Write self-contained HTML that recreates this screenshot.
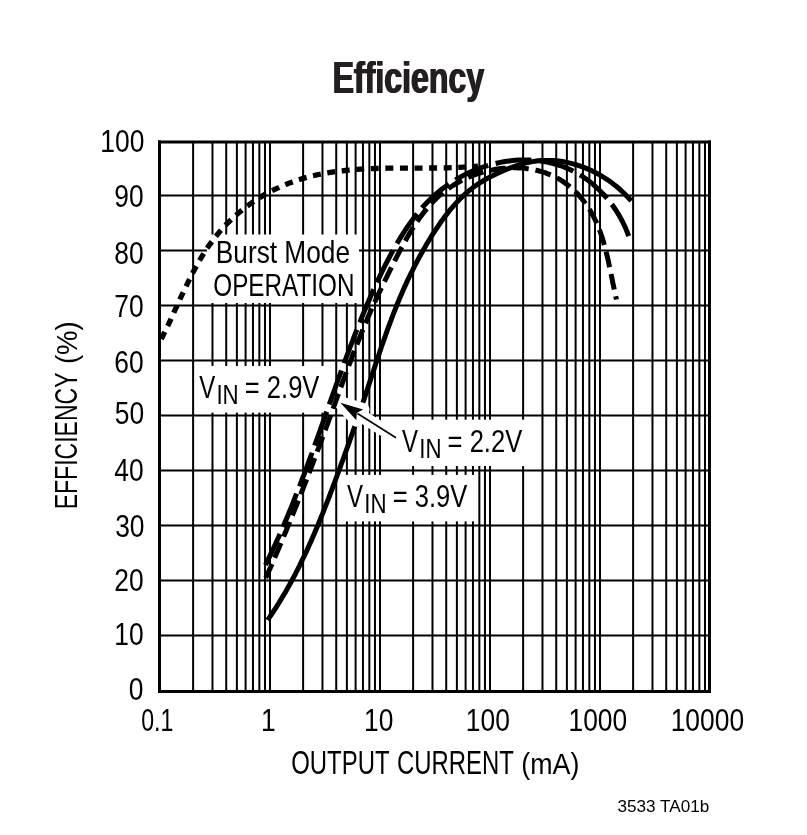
<!DOCTYPE html><html><head><meta charset="utf-8"><style>html,body{margin:0;padding:0;background:#fff;}svg{display:block;will-change:transform;}text{font-family:"Liberation Sans",sans-serif;}</style></head><body>
<svg width="807" height="835" viewBox="0 0 807 835">
<rect x="0" y="0" width="807" height="835" fill="#fff"/>
<path d="M193.11,143V690 M212.48,143V690 M226.23,143V690 M236.89,143V690 M245.60,143V690 M252.96,143V690 M259.34,143V690 M264.97,143V690 M270.00,143V690 M303.11,143V690 M322.48,143V690 M336.23,143V690 M346.89,143V690 M355.60,143V690 M362.96,143V690 M369.34,143V690 M374.97,143V690 M380.00,143V690 M413.11,143V690 M432.48,143V690 M446.23,143V690 M456.89,143V690 M465.60,143V690 M472.96,143V690 M479.34,143V690 M484.97,143V690 M490.00,143V690 M523.11,143V690 M542.48,143V690 M556.23,143V690 M566.89,143V690 M575.60,143V690 M582.96,143V690 M589.34,143V690 M594.97,143V690 M600.00,143V690 M633.11,143V690 M652.48,143V690 M666.23,143V690 M676.89,143V690 M685.60,143V690 M692.96,143V690 M699.34,143V690 M704.97,143V690 M161,635.60H708 M161,580.60H708 M161,525.60H708 M161,470.60H708 M161,415.60H708 M161,360.60H708 M161,305.60H708 M161,250.60H708 M161,195.60H708" stroke="#000" stroke-width="2" fill="none"/>
<rect x="158" y="140.5" width="3" height="552.5" fill="#000"/>
<rect x="708" y="140.5" width="3" height="552.5" fill="#000"/>
<rect x="158" y="140.5" width="553" height="3" fill="#000"/>
<rect x="158" y="690" width="553" height="3" fill="#000"/>
<rect x="207.0" y="234.5" width="152.0" height="68.5" fill="#fff"/>
<rect x="196.0" y="366.0" width="129.0" height="46.6" fill="#fff"/>
<rect x="398.0" y="419.7" width="130.0" height="46.3" fill="#fff"/>
<rect x="342.0" y="474.9" width="134.0" height="46.5" fill="#fff"/>
<path d="M267.6,620.1 L269.3,617.6 L271.0,615.1 L272.7,612.6 L274.3,610.1 L276.0,607.6 L277.6,605.0 L279.2,602.5 L280.7,599.9 L282.3,597.3 L283.8,594.8 L285.4,592.2 L286.9,589.5 L288.3,586.9 L289.8,584.3 L291.2,581.7 L292.7,579.0 L294.1,576.3 L295.5,573.7 L296.9,571.0 L298.2,568.3 L299.6,565.6 L300.9,562.9 L302.2,560.2 L303.5,557.5 L304.8,554.8 L306.1,552.1 L307.4,549.3 L308.6,546.6 L309.8,543.8 L311.1,541.1 L312.3,538.3 L313.5,535.6 L314.7,532.8 L315.8,530.0 L317.0,527.2 L318.2,524.5 L319.3,521.7 L320.4,518.9 L321.6,516.1 L322.7,513.3 L323.8,510.5 L324.9,507.7 L326.0,504.9 L327.1,502.1 L328.2,499.3 L329.3,496.5 L330.3,493.7 L331.4,490.9 L332.5,488.0 L333.5,485.2 L334.6,482.4 L335.6,479.6 L336.7,476.7 L337.7,473.9 L338.7,471.1 L339.8,468.3 L340.8,465.4 L341.8,462.6 L342.9,459.8 L343.9,457.0 L344.9,454.1 L345.9,451.3 L347.0,448.5 L348.0,445.6 L349.0,442.8 L350.0,440.0 L351.0,437.1 L352.0,434.3 L353.0,431.4 L354.0,428.6 L355.0,425.8 L356.0,422.9 L357.0,420.1 L358.0,417.2 L358.9,414.4 L359.9,411.5 L360.9,408.7 L361.8,405.8 L362.8,403.0 L363.8,400.1 L364.7,397.3 L365.7,394.4 L366.6,391.5 L367.6,388.7 L368.5,385.8 L369.4,383.0 L370.4,380.1 L371.3,377.2 L372.3,374.4 L373.2,371.5 L374.2,368.7 L375.1,365.8 L376.0,362.9 L377.0,360.1 L378.0,357.2 L378.9,354.4 L379.9,351.5 L380.8,348.7 L381.8,345.8 L382.8,343.0 L383.8,340.1 L384.8,337.3 L385.8,334.5 L386.8,331.6 L387.8,328.8 L388.9,326.0 L389.9,323.1 L391.0,320.3 L392.0,317.5 L393.1,314.7 L394.2,311.9 L395.3,309.1 L396.4,306.3 L397.5,303.5 L398.7,300.7 L399.8,297.9 L401.0,295.2 L402.2,292.4 L403.4,289.6 L404.6,286.9 L405.9,284.1 L407.1,281.4 L408.4,278.7 L409.7,276.0 L411.0,273.3 L412.4,270.6 L413.7,267.9 L415.1,265.2 L416.5,262.5 L417.9,259.9 L419.3,257.2 L420.8,254.6 L422.2,251.9 L423.7,249.3 L425.2,246.7 L426.7,244.1 L428.3,241.5 L429.8,239.0 L431.4,236.4 L433.0,233.8 L434.6,231.3 L436.3,228.8 L438.0,226.3 L439.7,223.8 L441.4,221.3 L443.2,218.9 L444.9,216.5 L446.8,214.1 L448.6,211.7 L450.5,209.4 L452.5,207.1 L454.5,204.8 L456.5,202.6 L458.6,200.4 L460.7,198.3 L462.9,196.2 L465.1,194.2 L467.4,192.2 L469.7,190.2 L472.0,188.4 L474.4,186.6 L476.9,184.8 L479.4,183.2 L482.0,181.6 L484.5,180.0 L487.2,178.5 L489.8,177.1 L492.5,175.7 L495.2,174.4 L497.9,173.1 L500.6,171.9 L503.4,170.7 L506.2,169.5 L509.0,168.4 L511.8,167.4 L514.6,166.3 L517.5,165.4 L520.4,164.4 L523.2,163.6 L526.2,162.8 L529.1,162.2 L532.1,161.6 L535.0,161.2 L538.0,160.8 L541.0,160.6 L544.0,160.4 L547.0,160.4 L550.1,160.4 L553.1,160.5 L556.1,160.8 L559.1,161.1 L562.0,161.5 L565.0,162.0 L568.0,162.6 L570.9,163.3 L573.8,164.1 L576.7,164.9 L579.6,165.8 L582.4,166.8 L585.2,167.9 L588.0,169.1 L590.7,170.3 L593.5,171.6 L596.1,173.0 L598.8,174.4 L601.4,175.9 L603.9,177.5 L606.5,179.1 L609.0,180.8 L611.4,182.6 L613.8,184.4 L616.2,186.3 L618.5,188.2 L620.7,190.2 L622.9,192.3 L625.1,194.4 L627.2,196.5 L629.3,198.7 L631.3,200.9" stroke="#000" stroke-width="5" fill="none"/>
<path d="M396,437.7 L350,408.7" stroke="#fff" stroke-width="13" fill="none"/>
<path d="M340.4,402.7 L363.05,409.52 L356.8,413.04 L356.33,420.18 Z" fill="#fff" stroke="#fff" stroke-width="13" stroke-linejoin="round"/>
<path d="M160.3,341.0 L161.6,338.3 L163.0,335.6 L164.3,332.9 L165.6,330.2 L166.9,327.5 L168.2,324.8 L169.5,322.1 L170.8,319.3 L172.0,316.6 L173.3,313.8 L174.5,311.1 L175.8,308.4 L177.1,305.6 L178.3,302.9 L179.6,300.1 L180.8,297.4 L182.1,294.7 L183.4,291.9 L184.7,289.2 L186.0,286.5 L187.3,283.8 L188.6,281.1 L190.0,278.4 L191.3,275.7 L192.7,273.0 L194.1,270.3 L195.5,267.7 L197.0,265.0 L198.5,262.4 L200.0,259.8 L201.5,257.2 L203.1,254.6 L204.7,252.1 L206.3,249.6 L208.0,247.1 L209.7,244.6 L211.5,242.1 L213.3,239.7 L215.1,237.3 L217.0,235.0 L218.9,232.6 L220.9,230.3 L222.9,228.1 L224.9,225.9 L227.0,223.7 L229.2,221.6 L231.3,219.5 L233.5,217.4 L235.8,215.4 L238.0,213.4 L240.3,211.5 L242.7,209.6 L245.0,207.7 L247.5,205.9 L249.9,204.1 L252.4,202.4 L254.9,200.7 L257.4,199.1 L259.9,197.5 L262.5,195.9 L265.1,194.4 L267.8,192.9 L270.4,191.5 L273.1,190.2 L275.8,188.8 L278.6,187.6 L281.3,186.3 L284.1,185.1 L286.9,184.0 L289.7,182.9 L292.5,181.9 L295.4,180.9 L298.2,179.9 L301.1,179.0 L304.0,178.1 L306.9,177.3 L309.8,176.6 L312.7,175.8 L315.7,175.2 L318.6,174.5 L321.6,173.9 L324.5,173.4 L327.5,172.9 L330.5,172.4 L333.5,171.9 L336.4,171.5 L339.4,171.1 L342.4,170.8 L345.4,170.5 L348.4,170.2 L351.4,169.9 L354.4,169.6 L357.4,169.4 L360.4,169.2 L363.5,169.0 L366.5,168.9 L369.5,168.7 L372.5,168.6 L375.5,168.5 L378.5,168.4 L381.5,168.3 L384.5,168.3 L387.6,168.2 L390.6,168.2 L393.6,168.1 L396.6,168.1 L399.6,168.1 L402.6,168.1 L405.6,168.1 L408.7,168.1 L411.7,168.1 L414.7,168.1 L417.7,168.1 L420.7,168.1 L423.7,168.1 L426.7,168.0 L429.8,168.0 L432.8,168.0 L435.8,168.0 L438.8,168.0 L441.8,167.9 L444.8,167.9 L447.8,167.8 L450.9,167.7 L453.9,167.6 L456.9,167.5 L459.9,167.4 L462.9,167.2 L465.9,167.1 L468.9,166.9 L471.9,166.7 L474.9,166.4 L477.9,166.2" stroke="#000" stroke-width="5.3" fill="none" stroke-dasharray="8 6.58" stroke-dashoffset="-2.12"/>
<path d="M265.5,565.0 L266.8,562.3 L268.1,559.6 L269.4,556.9 L270.7,554.2 L272.0,551.5 L273.3,548.7 L274.5,546.0 L275.8,543.3 L277.0,540.5 L278.3,537.8 L279.5,535.1 L280.7,532.3 L281.9,529.6 L283.1,526.8 L284.3,524.0 L285.4,521.3 L286.6,518.5 L287.8,515.7 L288.9,513.0 L290.0,510.2 L291.2,507.4 L292.3,504.6 L293.4,501.8 L294.5,499.0 L295.6,496.2 L296.7,493.4 L297.8,490.6 L298.9,487.8 L300.0,485.0 L301.1,482.2 L302.1,479.4 L303.2,476.6 L304.3,473.8 L305.3,471.0 L306.4,468.2 L307.4,465.4 L308.5,462.5 L309.5,459.7 L310.5,456.9 L311.6,454.1 L312.6,451.2 L313.6,448.4 L314.6,445.6 L315.6,442.8 L316.7,439.9 L317.7,437.1 L318.7,434.3 L319.7,431.5 L320.7,428.6 L321.7,425.8 L322.7,423.0 L323.7,420.1 L324.7,417.3 L325.7,414.5 L326.7,411.6 L327.7,408.8 L328.7,406.0 L329.7,403.1 L330.7,400.3 L331.8,397.5 L332.8,394.6 L333.8,391.8 L334.8,389.0 L335.8,386.2 L336.8,383.3 L337.8,380.5 L338.8,377.7 L339.9,374.9 L340.9,372.0 L341.9,369.2 L343.0,366.4 L344.0,363.6 L345.0,360.7 L346.1,357.9 L347.1,355.1 L348.2,352.3 L349.2,349.5 L350.3,346.7 L351.4,343.9 L352.5,341.1 L353.5,338.3 L354.6,335.5 L355.7,332.7 L356.8,329.9 L357.9,327.1 L359.0,324.3 L360.2,321.5 L361.3,318.7 L362.4,315.9 L363.6,313.1 L364.7,310.4 L365.9,307.6 L367.0,304.8 L368.2,302.1 L369.4,299.3 L370.6,296.5 L371.8,293.8 L373.0,291.0 L374.2,288.3 L375.5,285.6 L376.7,282.8 L378.0,280.1 L379.3,277.4 L380.6,274.7 L381.9,272.0 L383.2,269.3 L384.5,266.6 L385.9,263.9 L387.3,261.2 L388.7,258.6 L390.1,255.9 L391.5,253.3 L392.9,250.6 L394.4,248.0 L395.9,245.4 L397.4,242.8 L398.9,240.2 L400.5,237.7 L402.1,235.1 L403.7,232.6 L405.3,230.0 L407.0,227.5 L408.7,225.1 L410.4,222.6 L412.2,220.2 L414.0,217.8 L415.8,215.4 L417.7,213.0 L419.6,210.7 L421.6,208.4 L423.5,206.2 L425.6,204.0 L427.7,201.8 L429.8,199.7 L432.0,197.6 L434.2,195.6 L436.4,193.6 L438.7,191.7 L441.1,189.8 L443.4,188.0 L445.9,186.2 L448.3,184.5 L450.8,182.8 L453.4,181.2 L455.9,179.6 L458.5,178.1 L461.1,176.6 L463.8,175.2 L466.5,173.9 L469.2,172.6 L471.9,171.4 L474.7,170.2 L477.5,169.1 L480.3,168.0 L483.1,167.0 L486.0,166.1 L488.9,165.2 L491.8,164.4 L494.7,163.7 L497.6,163.0 L500.5,162.4 L503.5,161.8 L506.5,161.3 L509.4,160.9 L512.4,160.6 L515.4,160.3 L518.4,160.1 L521.4,160.0 L524.4,159.9 L527.4,160.0 L530.4,160.1 L533.4,160.2 L536.4,160.5 L539.4,160.8 L542.4,161.3 L545.3,161.8 L548.3,162.3 L551.2,163.0 L554.1,163.8 L557.0,164.6 L559.9,165.5 L562.7,166.5 L565.5,167.6 L568.3,168.8 L571.0,170.0 L573.7,171.4 L576.3,172.8 L578.9,174.3 L581.5,175.9 L584.0,177.5 L586.5,179.3 L588.9,181.1 L591.2,182.9 L593.6,184.8 L595.8,186.8 L598.0,188.8 L600.2,190.9 L602.3,193.1 L604.3,195.3 L606.3,197.5 L608.3,199.8 L610.1,202.2 L612.0,204.6 L613.7,207.0 L615.4,209.5 L617.0,212.0 L618.6,214.6 L620.1,217.2 L621.6,219.8 L622.9,222.5 L624.2,225.2 L625.5,227.9 L626.6,230.7 L627.7,233.5 L628.8,236.3" stroke="#000" stroke-width="5" fill="none" stroke-dasharray="36 7.68" stroke-dashoffset="1.77"/>
<path d="M265.8,578.0 L267.0,575.3 L268.2,572.5 L269.4,569.8 L270.7,567.0 L271.9,564.2 L273.1,561.5 L274.3,558.7 L275.4,556.0 L276.6,553.2 L277.8,550.4 L279.0,547.7 L280.2,544.9 L281.3,542.1 L282.5,539.4 L283.6,536.6 L284.8,533.8 L286.0,531.0 L287.1,528.3 L288.2,525.5 L289.4,522.7 L290.5,519.9 L291.7,517.1 L292.8,514.4 L293.9,511.6 L295.0,508.8 L296.2,506.0 L297.3,503.2 L298.4,500.4 L299.5,497.6 L300.6,494.8 L301.7,492.0 L302.8,489.2 L303.9,486.4 L305.0,483.6 L306.1,480.8 L307.1,478.0 L308.2,475.2 L309.3,472.4 L310.4,469.6 L311.5,466.8 L312.5,464.0 L313.6,461.2 L314.7,458.4 L315.7,455.6 L316.8,452.7 L317.8,449.9 L318.9,447.1 L320.0,444.3 L321.0,441.5 L322.1,438.7 L323.1,435.8 L324.1,433.0 L325.2,430.2 L326.2,427.4 L327.3,424.6 L328.3,421.7 L329.3,418.9 L330.4,416.1 L331.4,413.3 L332.4,410.4 L333.4,407.6 L334.5,404.8 L335.5,402.0 L336.5,399.1 L337.5,396.3 L338.6,393.5 L339.6,390.7 L340.6,387.8 L341.7,385.0 L342.7,382.2 L343.7,379.4 L344.8,376.6 L345.8,373.7 L346.8,370.9 L347.9,368.1 L348.9,365.3 L350.0,362.5 L351.1,359.7 L352.1,356.8 L353.2,354.0 L354.3,351.2 L355.4,348.4 L356.5,345.6 L357.6,342.8 L358.7,340.0 L359.8,337.2 L360.9,334.5 L362.0,331.7 L363.2,328.9 L364.3,326.1 L365.5,323.3 L366.6,320.6 L367.8,317.8 L369.0,315.0 L370.2,312.3 L371.4,309.5 L372.6,306.8 L373.9,304.1 L375.1,301.3 L376.4,298.6 L377.7,295.9 L378.9,293.1 L380.2,290.4 L381.5,287.7 L382.8,285.0 L384.1,282.3 L385.4,279.6 L386.8,276.9 L388.1,274.2 L389.4,271.5 L390.7,268.8 L392.1,266.1 L393.4,263.4 L394.8,260.7 L396.1,258.1 L397.5,255.4 L398.9,252.7 L400.3,250.1 L401.7,247.4 L403.1,244.8 L404.6,242.1 L406.1,239.5 L407.5,236.9 L409.1,234.3 L410.6,231.7 L412.2,229.2 L413.8,226.6 L415.4,224.1 L417.1,221.6 L418.8,219.1 L420.6,216.7 L422.4,214.3 L424.2,211.9 L426.1,209.6 L428.0,207.3 L430.0,205.0 L432.0,202.8 L434.1,200.6 L436.3,198.5 L438.5,196.5 L440.7,194.5 L443.0,192.5 L445.4,190.7 L447.8,188.9 L450.3,187.2 L452.8,185.5 L455.3,184.0 L457.9,182.5 L460.6,181.0 L463.3,179.7 L466.0,178.4 L468.7,177.2 L471.5,176.0 L474.3,175.0 L477.2,174.0 L480.0,173.1 L482.9,172.2 L485.8,171.4 L488.7,170.7 L491.7,170.1 L494.6,169.5 L497.6,169.0 L500.6,168.6 L503.6,168.3 L506.6,168.1 L509.6,167.9 L512.6,167.8 L515.6,167.8 L518.6,167.9 L521.6,168.1 L524.6,168.3 L527.5,168.7 L530.5,169.1 L533.5,169.6 L536.4,170.3 L539.3,171.0 L542.2,171.8 L545.1,172.7 L547.9,173.8 L550.7,174.9 L553.4,176.1 L556.1,177.5 L558.8,178.9 L561.3,180.5 L563.8,182.1 L566.3,183.9 L568.7,185.7 L571.0,187.6 L573.2,189.6 L575.4,191.7 L577.5,193.8 L579.5,196.1 L581.5,198.3 L583.4,200.7 L585.2,203.1 L586.9,205.5 L588.6,208.0 L590.2,210.6 L591.7,213.2 L593.2,215.8 L594.5,218.5 L595.8,221.2 L597.1,223.9 L598.2,226.7 L599.3,229.5 L600.4,232.3 L601.4,235.2 L602.3,238.0 L603.2,240.9 L604.0,243.8 L604.8,246.7 L605.6,249.6 L606.3,252.5 L607.0,255.4 L607.7,258.3 L608.4,261.3 L609.0,264.2 L609.6,267.1 L610.3,270.1 L610.9,273.0 L611.5,276.0 L612.1,278.9 L612.6,281.9 L613.3,284.8 L613.9,287.8 L614.5,290.7 L615.1,293.6 L615.8,296.6 L616.5,299.5" stroke="#000" stroke-width="5" fill="none" stroke-dasharray="16 6.86" stroke-dashoffset="0.71"/>
<path d="M396,437.7 L357.5,413.5" stroke="#000" stroke-width="1.6" fill="none"/>
<path d="M340.4,402.7 L363.05,409.52 L356.8,413.04 L356.33,420.18 Z" fill="#000"/>
<text x="0" y="0" font-size="100" font-weight="bold" fill="#231f20" transform="matrix(0.3209,0,0,0.4478,331.95,93.10)">Efficiency</text>
<text x="0" y="0" font-size="100" font-weight="bold" fill="#231f20" transform="matrix(0.3209,0,0,0.4478,333.25,93.10)">Efficiency</text>
<text x="0" y="0" font-size="100" fill="#000" transform="matrix(0.2394,0,0,0.3239,291.20,773.78)">OUTPUT</text>
<text x="0" y="0" font-size="100" fill="#000" transform="matrix(0.2390,0,0,0.3239,397.00,773.78)">CURRENT</text>
<text x="0" y="0" font-size="100" fill="#000" transform="matrix(0.2681,0,0,0.3000,521.29,773.80)">(mA)</text>
<text x="0" y="0" font-size="100" fill="#000" transform="matrix(0.1713,0,0,0.1690,617.51,811.83)">3533 TA01b</text>
<text x="0" y="0" font-size="100" fill="#000" transform="translate(77.10,509.34) rotate(-90) scale(0.2305,0.3188)">EFFICIENCY</text>
<text x="0" y="0" font-size="100" fill="#000" transform="translate(77.13,364.05) rotate(-90) scale(0.2755,0.3032)">(%)</text>
<text x="0" y="0" font-size="100" fill="#000" transform="matrix(0.2625,0,0,0.3159,215.80,262.80)">Burst Mode</text>
<text x="0" y="0" font-size="100" fill="#000" transform="matrix(0.2428,0,0,0.3211,213.29,296.18)">OPERATION</text>
<text x="0" y="0" font-size="100" transform="matrix(0.2640,0,0,0.3180,100.37,152.02)">100</text>
<text x="0" y="0" font-size="100" transform="matrix(0.2640,0,0,0.3180,114.25,207.12)">90</text>
<text x="0" y="0" font-size="100" transform="matrix(0.2640,0,0,0.3180,114.25,264.07)">80</text>
<text x="0" y="0" font-size="100" transform="matrix(0.2640,0,0,0.3180,114.25,317.17)">70</text>
<text x="0" y="0" font-size="100" transform="matrix(0.2640,0,0,0.3180,114.25,373.17)">60</text>
<text x="0" y="0" font-size="100" transform="matrix(0.2640,0,0,0.3180,114.85,424.17)">50</text>
<text x="0" y="0" font-size="100" transform="matrix(0.2640,0,0,0.3180,114.25,481.27)">40</text>
<text x="0" y="0" font-size="100" transform="matrix(0.2640,0,0,0.3180,115.15,537.12)">30</text>
<text x="0" y="0" font-size="100" transform="matrix(0.2640,0,0,0.3180,114.25,591.27)">20</text>
<text x="0" y="0" font-size="100" transform="matrix(0.2640,0,0,0.3180,114.25,645.07)">10</text>
<text x="0" y="0" font-size="100" transform="matrix(0.2640,0,0,0.3180,128.77,700.07)">0</text>
<text x="0" y="0" font-size="100" transform="matrix(0.2640,0,0,0.3180,261.01,731.02)">1</text>
<text x="0" y="0" font-size="100" transform="matrix(0.2640,0,0,0.3180,364.07,731.02)">10</text>
<text x="0" y="0" font-size="100" transform="matrix(0.2640,0,0,0.3180,465.78,731.02)">100</text>
<text x="0" y="0" font-size="100" transform="matrix(0.2640,0,0,0.3180,568.47,731.02)">1000</text>
<text x="0" y="0" font-size="100" transform="matrix(0.2640,0,0,0.3180,670.68,731.02)">10000</text>
<text x="0" y="0" font-size="100" fill="#000" transform="matrix(0.2315,0,0,0.3141,141.17,730.89)">0.1</text>
<text x="0" y="0" font-size="100" fill="#000" transform="matrix(0.2400,0,0,0.3188,199.16,397.80)">V</text>
<text x="0" y="0" font-size="100" fill="#000" transform="matrix(0.2229,0,0,0.2739,216.39,403.80)">IN</text>
<text x="0" y="0" font-size="100" fill="#000" transform="matrix(0.2556,0,0,0.3155,244.82,397.88)">= 2.9V</text>
<text x="0" y="0" font-size="100" fill="#000" transform="matrix(0.2400,0,0,0.3188,401.96,452.30)">V</text>
<text x="0" y="0" font-size="100" fill="#000" transform="matrix(0.2229,0,0,0.2739,419.19,458.30)">IN</text>
<text x="0" y="0" font-size="100" fill="#000" transform="matrix(0.2556,0,0,0.3155,447.62,452.38)">= 2.2V</text>
<text x="0" y="0" font-size="100" fill="#000" transform="matrix(0.2400,0,0,0.3188,347.06,507.30)">V</text>
<text x="0" y="0" font-size="100" fill="#000" transform="matrix(0.2229,0,0,0.2739,364.29,513.30)">IN</text>
<text x="0" y="0" font-size="100" fill="#000" transform="matrix(0.2556,0,0,0.3155,392.72,507.38)">= 3.9V</text>
</svg></body></html>
